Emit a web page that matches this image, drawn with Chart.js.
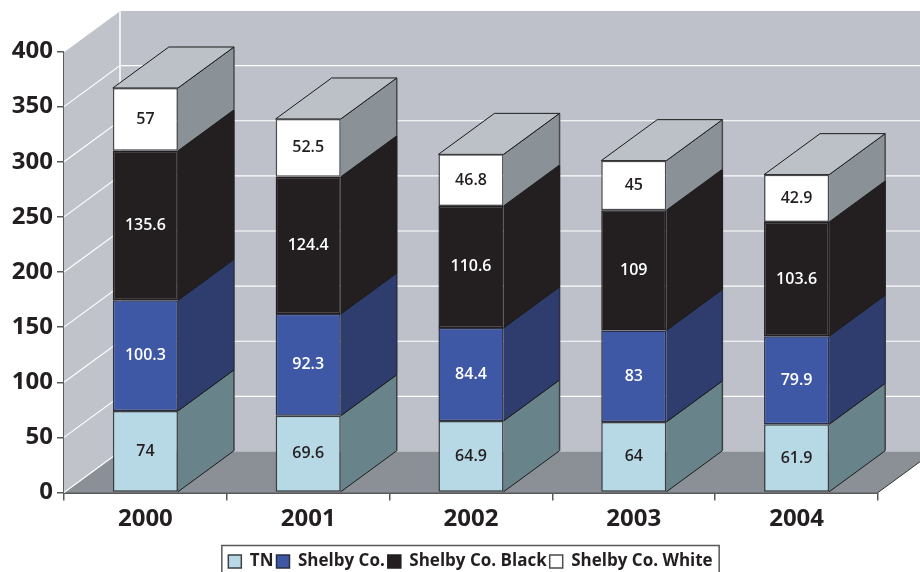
<!DOCTYPE html>
<html>
<head>
<meta charset="utf-8">
<title>Stacked bars 2000-2004</title>
<script src="https://cdn.jsdelivr.net/npm/chart.js@4"></script>
<style>
  html, body { margin: 0; padding: 0; background: #fff; overflow: hidden; }
  canvas { display: block; }
</style>
</head>
<body>
<canvas id="chart" width="920" height="572"></canvas>
<script>
const years = ["2000", "2001", "2002", "2003", "2004"];
const tn = [74, 69.6, 64.9, 64, 61.9];
const shelby = [100.3, 92.3, 84.4, 83, 79.9];
const shelbyBlack = [135.6, 124.4, 110.6, 109, 103.6];
const shelbyWhite = [57, 52.5, 46.8, 45, 42.9];

// depth of the fake 3d box
const depthX = 56;
const depthY = 41;
const textColor = "#231f20";
const fontName = "'Open Sans', sans-serif";

function poly(ctx, pts, fill, stroke) {
  ctx.beginPath();
  pts.forEach((p, i) => (i ? ctx.lineTo(p[0], p[1]) : ctx.moveTo(p[0], p[1])));
  ctx.closePath();
  if (fill) { ctx.fillStyle = fill; ctx.fill(); }
  if (stroke) { ctx.strokeStyle = stroke; ctx.lineWidth = 1; ctx.stroke(); }
}

const boxWalls = {
  id: "boxWalls",
  beforeDatasetsDraw(chart) {
    const { ctx, chartArea: a, scales } = chart;
    const y = scales.y;
    ctx.save();
    // side wall and back wall
    poly(ctx, [[a.left, a.top], [a.left + depthX, a.top - depthY], [a.left + depthX, a.bottom - depthY], [a.left, a.bottom]], "#c0c3ca");
    poly(ctx, [[a.left + depthX, a.top - depthY], [a.right + depthX, a.top - depthY], [a.right + depthX, a.bottom - depthY], [a.left + depthX, a.bottom - depthY]], "#bec1c9");
    // floor
    poly(ctx, [[a.left, a.bottom], [a.left + depthX, a.bottom - depthY], [a.right + depthX, a.bottom - depthY], [a.right, a.bottom]], "#8a9095");

    // grid lines run along the side wall then across the back wall
    ctx.strokeStyle = "#ffffff";
    ctx.lineWidth = 1.2;
    y.ticks.forEach(t => {
      const py = y.getPixelForValue(t.value);
      ctx.beginPath();
      ctx.moveTo(a.left, py);
      ctx.lineTo(a.left + depthX, py - depthY);
      if (t.value > 0) ctx.lineTo(a.right + depthX, py - depthY);
      ctx.stroke();
    });
    ctx.lineWidth = 1.5;
    ctx.beginPath();
    ctx.moveTo(a.left + depthX, a.bottom - depthY);
    ctx.lineTo(a.left + depthX, a.top - depthY);
    ctx.stroke();

    // floor front-right edge
    ctx.strokeStyle = "#333";
    ctx.lineWidth = 1;
    ctx.beginPath();
    ctx.moveTo(a.right, a.bottom);
    ctx.lineTo(a.right + depthX, a.bottom - depthY);
    ctx.stroke();

    // side and top faces of each bar segment
    chart.data.datasets.forEach((ds, i) => {
      const meta = chart.getDatasetMeta(i);
      const last = i === chart.data.datasets.length - 1;
      meta.data.forEach(bar => {
        const right = bar.x + bar.width / 2;
        const left = bar.x - bar.width / 2;
        poly(ctx, [[right, bar.y], [right + depthX, bar.y - depthY], [right + depthX, bar.base - depthY], [right, bar.base]], ds.sideColor);
        ctx.strokeStyle = "#1c1c1c";
        ctx.lineWidth = 1;
        ctx.beginPath();
        ctx.moveTo(right, bar.base);
        ctx.lineTo(right + depthX, bar.base - depthY);
        ctx.moveTo(right, bar.y);
        ctx.lineTo(right + depthX, bar.y - depthY);
        ctx.stroke();
        ctx.strokeStyle = ds.borderColor;
        ctx.lineWidth = 1.5;
        ctx.beginPath();
        ctx.moveTo(right + depthX, bar.y - depthY);
        ctx.lineTo(right + depthX, bar.base - depthY);
        ctx.stroke();
        if (last) {
          poly(ctx, [[left, bar.y], [left + depthX, bar.y - depthY], [right + depthX, bar.y - depthY], [right, bar.y]], "#bcc0c7", "#1c1c1c");
        }
      });
    });
    ctx.restore();
  }
};

const valueLabels = {
  id: "valueLabels",
  afterDatasetsDraw(chart) {
    const { ctx } = chart;
    ctx.save();
    ctx.font = "600 16px " + fontName;
    ctx.textAlign = "center";
    ctx.textBaseline = "middle";
    chart.data.datasets.forEach((ds, i) => {
      ctx.fillStyle = ds.labelColor;
      chart.getDatasetMeta(i).data.forEach((bar, j) => {
        ctx.fillText(String(ds.data[j]), bar.x, (bar.y + bar.base) / 2);
      });
    });
    ctx.restore();
  }
};

// legend sits off-centre in the reference and has a thin frame with no bottom line
const legendFrame = {
  id: "legendFrame",
  afterLayout(chart) {
    const legend = chart.legend;
    legend.left += 31.5;
    legend.right += 31.5;
    legend.top += 8;
    legend.bottom += 8;
  },
  afterDraw(chart) {
    const { ctx, legend } = chart;
    const mid = (legend.left + legend.right) / 2;
    const half = (legend.lineWidths[0] + 10) / 2;
    ctx.save();
    ctx.strokeStyle = "#58595b";
    ctx.lineWidth = 1.5;
    ctx.beginPath();
    ctx.moveTo(mid - half, 572);
    ctx.lineTo(mid - half, 545.5);
    ctx.lineTo(mid + half, 545.5);
    ctx.lineTo(mid + half, 572);
    ctx.stroke();
    ctx.restore();
  }
};

function series(label, data, color, sideColor, labelColor, edgeColor) {
  return {
    label, data, sideColor, labelColor,
    backgroundColor: color,
    borderColor: edgeColor,
    borderWidth: 1.5,
    borderSkipped: false,
    barPercentage: 0.4,
    categoryPercentage: 1
  };
}

new Chart(document.getElementById("chart"), {
  type: "bar",
  data: {
    labels: years,
    datasets: [
      series("TN", tn, "#b7d9e6", "#68838a", textColor, "#3c4043"),
      series("Shelby Co.", shelby, "#3f58a6", "#2f3d6e", "#ffffff", "#2b2f45"),
      series("Shelby Co. Black", shelbyBlack, "#231f20", "#231f20", "#ffffff", "#231f20"),
      series("Shelby Co. White", shelbyWhite, "#ffffff", "#8a9197", textColor, "#4a4a4c")
    ]
  },
  plugins: [boxWalls, valueLabels, legendFrame],
  options: {
    responsive: false,
    animation: false,
    layout: { padding: { top: 51.5, right: 42 } },
    plugins: {
      tooltip: { enabled: false },
      legend: {
        position: "bottom",
        labels: {
          color: textColor,
          font: { family: fontName, size: 17, weight: "bold" },
          boxWidth: 13,
          boxHeight: 13,
          padding: 3
        }
      }
    },
    scales: {
      x: {
        stacked: true,
        afterFit(s) { s.height = 49.5; },
        border: { color: "#58595b", width: 2 },
        grid: { offset: true, drawOnChartArea: false, color: "#58595b", tickLength: 8, lineWidth: 1.5 },
        ticks: {
          color: textColor,
          padding: 4,
          font: { family: fontName, size: 24, weight: "bold" }
        }
      },
      y: {
        stacked: true,
        min: 0,
        max: 400,
        afterFit(s) { s.width = 64; },
        border: { color: "#58595b", width: 2 },
        grid: { drawOnChartArea: false, color: "#58595b", tickLength: 7, lineWidth: 1.5 },
        ticks: {
          stepSize: 50,
          color: textColor,
          padding: 4,
          font: { family: fontName, size: 24, weight: "bold" }
        }
      }
    }
  }
});
</script>
</body>
</html>
